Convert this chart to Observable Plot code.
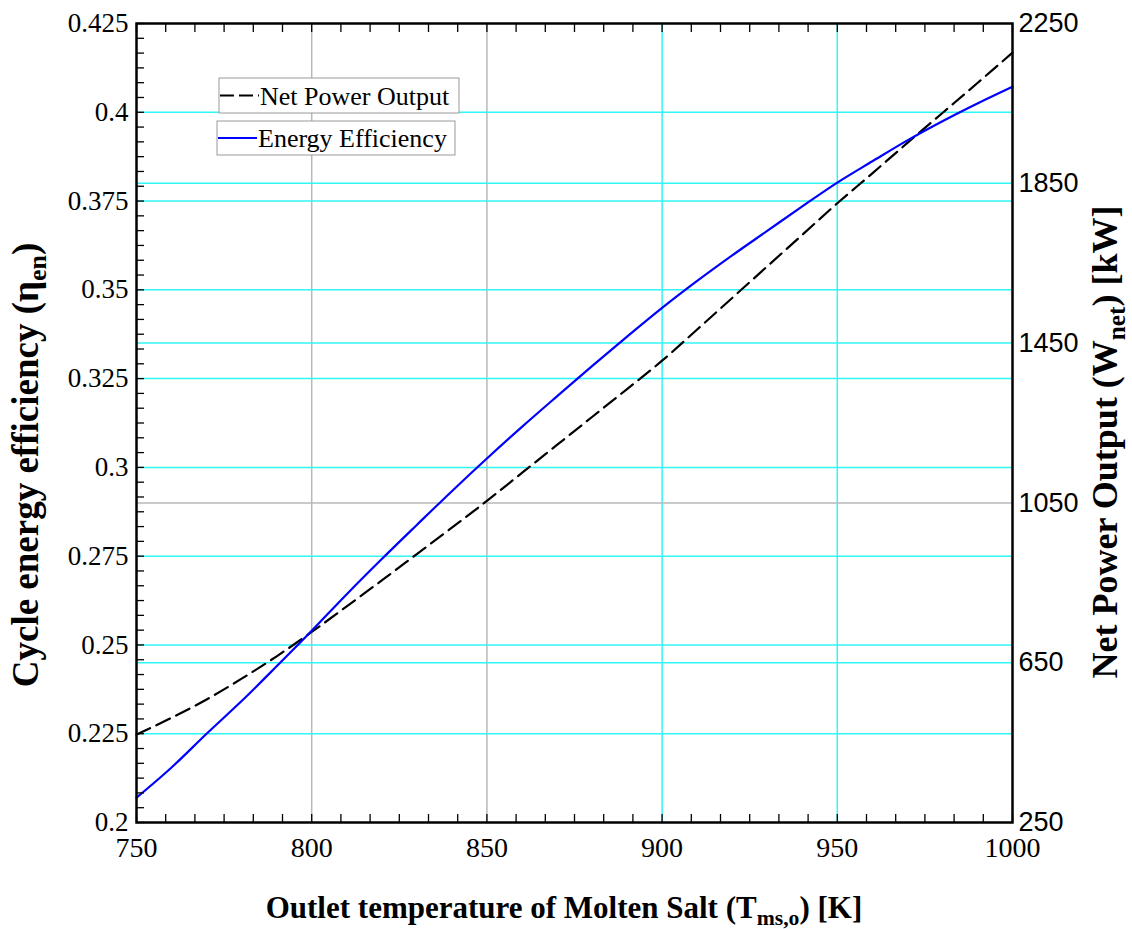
<!DOCTYPE html>
<html><head><meta charset="utf-8">
<script src="https://cdn.jsdelivr.net/npm/d3@7"></script>
<script src="https://cdn.jsdelivr.net/npm/@observablehq/plot@0.6"></script>
<style>
html,body{margin:0;padding:0;background:#fff}
#chart svg{display:block}
</style>
</head><body><div id="chart"></div>
<script>
// ---- data ----
const temperature = [750,760,770,780,790,800,810,820,830,840,850,860,870,880,890,900,910,920,930,940,950,960,970,980,990,1000];
const efficiency  = [0.2070,0.2155,0.2250,0.2342,0.2440,0.2540,0.2643,0.2742,0.2838,0.2933,0.3025,0.3114,0.3200,0.3285,0.3368,0.3449,0.3525,0.3597,0.3666,0.3735,0.3802,0.3862,0.3921,0.3975,0.4025,0.4072];
const netPower    = [470,512,558,610,666,727,791,856,922,988,1055,1125,1195,1265,1335,1406,1484,1563,1642,1721,1800,1875,1951,2026,2101,2177];
const seriesNames = ["Net Power Output","Energy Efficiency"];

const xTicks = [750,800,850,900,950,1000];
const xTickLabels = ["750","800","850","900","950","1000"];
const yLeftTicks = [0.2,0.225,0.25,0.275,0.3,0.325,0.35,0.375,0.4,0.425];
const yLeftTickLabels = ["0.2","0.225","0.25","0.275","0.3","0.325","0.35","0.375","0.4","0.425"];
const yRightTicks = [250,650,1050,1450,1850,2250];
const yRightTickLabels = ["250","650","1050","1450","1850","2250"];

const gridXGray = [800,850];
const gridXCyan = [900,950];
const gridYCyanLeft = [0.225,0.25,0.275,0.3,0.325,0.35,0.375,0.4];
const gridYCyanRight = [650,1450,1850];
const gridYGrayRight = [1050];

// ---- right axis mapping (power -> left scale) ----
const yDom = [0.2,0.425], pDom = [250,2250];
const toLeft = p => yDom[0] + (p - pDom[0]) / (pDom[1]-pDom[0]) * (yDom[1]-yDom[0]);

const data = temperature.map((t,i)=>({t, eff: efficiency[i], pw: toLeft(netPower[i])}));
const bottomLabels = xTicks.map((x,i)=>({x, label: xTickLabels[i]}));
const leftLabels = yLeftTicks.map((y,i)=>({y, label: yLeftTickLabels[i]}));
const rightLabels = yRightTicks.map((p,i)=>({y: toLeft(p), label: yRightTickLabels[i]}));
const xMinor = d3.range(0,31).map(i => 750 + i*50/6);
const yMinor = d3.range(0,55).map(i => 0.2 + i*0.025/6);

const cyan = "#30f6f6", gray = "#b8b8b8";
const serif = "'Liberation Serif', 'Times New Roman', serif";
const sans = "'Liberation Sans', Arial, sans-serif";

const chart = Plot.plot({
  width: 1132, height: 929,
  marginLeft: 136, marginRight: 120, marginTop: 23, marginBottom: 107,
  style: {background: "#fff", color: "#000"},
  x: {domain: [750,1000]},
  y: {domain: yDom},
  marks: [
    Plot.ruleX(gridXGray, {stroke: gray, strokeWidth: 1.5}),
    Plot.ruleX(gridXCyan, {stroke: cyan, strokeWidth: 1.5}),
    Plot.ruleY(gridYCyanLeft, {stroke: cyan, strokeWidth: 1.5}),
    Plot.ruleY(gridYCyanRight.map(toLeft), {stroke: cyan, strokeWidth: 1.5}),
    Plot.ruleY(gridYGrayRight.map(toLeft), {stroke: gray, strokeWidth: 1.5}),
    Plot.line(data, {x: "t", y: "pw", stroke: "#000", strokeWidth: 2.2, strokeDasharray: "15,7", curve: "catmull-rom"}),
    Plot.line(data, {x: "t", y: "eff", stroke: "#0000ff", strokeWidth: 2.2, curve: "catmull-rom"}),
    Plot.axisX(xMinor, {anchor: "bottom", tickSize: -8, fill: "none", label: null, strokeWidth: 1.3}),
    Plot.axisX(xMinor, {anchor: "top", tickSize: -8, fill: "none", label: null, strokeWidth: 1.3}),
    Plot.axisY(yMinor, {anchor: "left", tickSize: -8, fill: "none", label: null, strokeWidth: 1.3}),
    Plot.text(bottomLabels, {x: "x", text: "label", frameAnchor: "bottom", dy: 34, textAnchor: "middle",
      fontSize: 28, fontFamily: serif, fill: "#000"}),
    Plot.text(leftLabels, {y: "y", text: "label", frameAnchor: "left", dx: -8, textAnchor: "end",
      fontSize: 27, fontFamily: serif, fill: "#000"}),
    Plot.text(rightLabels, {y: "y", text: "label", frameAnchor: "right", dx: 6, textAnchor: "start",
      fontSize: 27, fontFamily: sans, fill: "#000"}),
    Plot.frame({stroke: "#000", strokeWidth: 2.5})
  ]
});
document.getElementById("chart").appendChild(chart);
const svg = d3.select(chart);

// ---- axis titles with subscripts ----
function title(x, y, rot, size, parts) {
  const t = svg.append("text")
    .attr("transform", `translate(${x},${y})` + (rot ? ` rotate(${rot})` : ""))
    .attr("text-anchor", "middle").style("font-family", serif)
    .attr("font-weight", "bold").attr("font-size", size).attr("fill", "#000");
  parts.forEach(([s, sub]) => {
    const sp = t.append("tspan").attr("dy", sub === 1 ? size*0.22 : sub === -1 ? -size*0.22 : 0).text(s);
    if (sub === 1) sp.attr("font-size", size*0.7);
  });
}
title(564, 918, 0, 31, [["Outlet temperature of Molten Salt (T",0],["ms,o",1],[") [K]",-1]]);
title(38, 465, -90, 37, [["Cycle energy efficiency (η",0],["en",1],[")",-1]]);
title(1117, 442, -90, 36, [["Net Power Output (W",0],["net",1],[") [kW]",-1]]);

// ---- legend ----
const legendItems = [
  {name: seriesNames[0], x0: 219, y0: 78, w: 240, h: 35, stroke: "#000", dash: "14,5"},
  {name: seriesNames[1], x0: 217, y0: 121, w: 238, h: 34, stroke: "#0000ff", dash: null}
];
legendItems.forEach(d => {
  const g = svg.append("g");
  g.append("rect").attr("x", d.x0).attr("y", d.y0).attr("width", d.w).attr("height", d.h)
    .attr("fill", "#fff").attr("stroke", "#999").attr("stroke-width", 1);
  g.append("line").attr("x1", d.x0 + 1).attr("x2", d.x0 + 40).attr("y1", d.y0 + d.h/2).attr("y2", d.y0 + d.h/2)
    .attr("stroke", d.stroke).attr("stroke-width", 2).attr("stroke-dasharray", d.dash);
  g.append("text").attr("x", d.x0 + 41).attr("y", d.y0 + d.h - 8).attr("text-anchor", "start").style("font-family", serif)
    .attr("font-size", 26).attr("fill", "#000").text(d.name);
});
</script>
</body></html>
